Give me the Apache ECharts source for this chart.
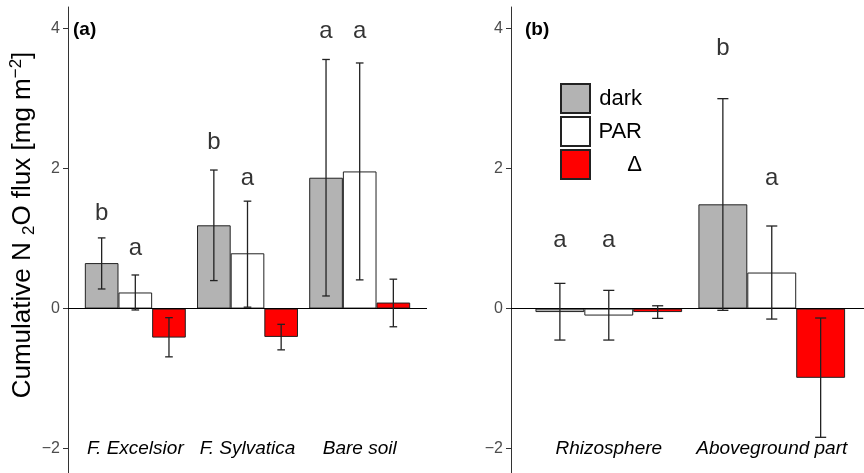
<!DOCTYPE html>
<html>
<head>
<meta charset="utf-8">
<script src="https://cdn.jsdelivr.net/npm/echarts@6/dist/echarts.min.js"></script>
<style>
html,body{margin:0;padding:0;background:#fff;}
#c{width:864px;height:473px;}
</style>
</head>
<body>
<div id="c"></div>
<script>
// ---------- data ----------
const seriesNames = ['dark', 'PAR', 'Δ'];
const yTicks = [-2, 0, 2, 4];

const catsA = ['F. Excelsior', 'F. Sylvatica', 'Bare soil'];
const darkA = [0.65, 1.19, 1.87];
const parA = [0.23, 0.79, 1.96];
const deltaA = [-0.415, -0.405, 0.086];
const darkLoA = [0.28, 0.40, 0.18];
const darkHiA = [1.01, 1.98, 3.56];
const parLoA = [-0.02, 0.02, 0.41];
const parHiA = [0.48, 1.535, 3.51];
const deltaLoA = [-0.69, -0.59, -0.26];
const deltaHiA = [-0.13, -0.225, 0.42];
const lettersDarkA = ['b', 'b', 'a'];
const lettersParA = ['a', 'a', 'a'];
const letterYDarkA = [1.36, 2.37, 3.96];
const letterYParA = [0.86, 1.86, 3.96];

const catsB = ['Rhizosphere', 'Aboveground part'];
const darkB = [-0.05, 1.49];
const parB = [-0.10, 0.515];
const deltaB = [-0.05, -0.99];
const darkLoB = [-0.45, -0.025];
const darkHiB = [0.36, 3.00];
const parLoB = [-0.45, -0.15];
const parHiB = [0.26, 1.18];
const deltaLoB = [-0.14, -1.84];
const deltaHiB = [0.04, -0.135];
const lettersDarkB = ['a', 'b'];
const lettersParB = ['a', 'a'];
const letterYDarkB = [0.98, 3.72];
const letterYParB = [0.98, 1.86];

// ---------- styling ----------
const FONT = '"Liberation Sans", Arial, Helvetica, sans-serif';
const fills = ['#B3B3B3', '#FFFFFF', '#FF0000'];
const EDGE = '#222';
const DODGE = [-0.3, 0, 0.3];
const CAP = 0.068;
const Y_MIN = -2.35, Y_MAX = 4.31;

const chart = echarts.init(document.getElementById('c'), null, {renderer: 'canvas'});

function xAxisFor(grid, cats, maxV) {
  return {
    type: 'value', gridIndex: grid, min: 0.4, max: maxV,
    axisLine: {show: false}, axisTick: {show: false}, splitLine: {show: false},
    offset: -24,
    axisLabel: {
      customValues: cats.map((c, i) => i + 1),
      formatter: v => cats[Math.round(v) - 1] || '',
      fontFamily: FONT, fontStyle: 'italic', fontSize: 19, color: '#000',
      margin: 0, verticalAlign: 'middle'
    }
  };
}
function yAxisFor(grid, withName) {
  const ax = {
    type: 'value', gridIndex: grid, min: Y_MIN, max: Y_MAX,
    axisLine: {show: true, lineStyle: {color: '#333', width: 1}},
    axisTick: {show: true, length: 5, lineStyle: {color: '#333', width: 1}, customValues: yTicks},
    splitLine: {show: false},
    axisLabel: {customValues: yTicks, fontFamily: FONT, fontSize: 16, color: '#4D4D4D', margin: 8,
      formatter: v => (v < 0 ? '\u2212' + Math.abs(v) : String(v))}
  };
  if (withName) {
    ax.name = 'Cumulative N {sub|2}O flux [mg m{sup|\u22122}]';
    ax.nameLocation = 'middle';
    ax.nameRotate = 90;
    ax.nameGap = 29;
    ax.nameTextStyle = {
      fontFamily: FONT, fontSize: 26, color: '#000', lineHeight: 30,
      padding: [0, 0, 0, 30],
      rich: {
        sub: {fontFamily: FONT, fontSize: 17, lineHeight: 10, verticalAlign: 'bottom'},
        sup: {fontFamily: FONT, fontSize: 17, lineHeight: 10, verticalAlign: 'top'}
      }
    };
  }
  return ax;
}

function barSeries(grid, name, idx, vals, withZero) {
  const s = {
    type: 'bar', name: name, xAxisIndex: grid, yAxisIndex: grid,
    data: vals.map((v, i) => [i + 1, v]),
    barGap: '0%', barCategoryGap: '10%',
    itemStyle: {color: fills[idx], borderColor: EDGE, borderWidth: 1},
    emphasis: {disabled: true}
  };
  if (withZero) {
    s.markLine = {
      silent: true, symbol: ['none', 'none'], label: {show: false},
      lineStyle: {color: '#000', width: 1, type: 'solid'},
      data: [{yAxis: 0}]
    };
  }
  return s;
}

function errSeries(grid, idx, lo, hi) {
  const off = DODGE[idx];
  return {
    type: 'custom', xAxisIndex: grid, yAxisIndex: grid, z: 5, silent: true,
    data: lo.map((l, i) => [i + 1, l, hi[i]]),
    encode: {x: 0, y: [1, 2]},
    renderItem: function (params, api) {
      const x = api.value(0) + off;
      const a = api.coord([x, api.value(1)]);
      const b = api.coord([x, api.value(2)]);
      const half = api.size([CAP, 0])[0] / 2;
      const st = {stroke: EDGE, lineWidth: 1.3};
      return {type: 'group', children: [
        {type: 'line', shape: {x1: a[0], y1: a[1], x2: b[0], y2: b[1]}, style: st},
        {type: 'line', shape: {x1: b[0] - half, y1: b[1], x2: b[0] + half, y2: b[1]}, style: st},
        {type: 'line', shape: {x1: a[0] - half, y1: a[1], x2: a[0] + half, y2: a[1]}, style: st}
      ]};
    }
  };
}

function letterSeries(grid, idx, letters, ys) {
  const off = DODGE[idx];
  return {
    type: 'scatter', xAxisIndex: grid, yAxisIndex: grid, z: 6, silent: true,
    symbol: 'circle', symbolSize: 1, itemStyle: {color: 'rgba(0,0,0,0)'},
    data: letters.map((t, i) => [i + 1 + off, ys[i], t]),
    label: {show: true, position: 'inside', formatter: p => p.value[2],
      fontFamily: FONT, fontSize: 24, color: '#000'}
  };
}

const option = {
  animation: false,
  backgroundColor: '#fff',
  title: [
    {text: '(a)', left: 73, top: 20, padding: 0,
      textStyle: {fontFamily: FONT, fontSize: 19, fontWeight: 'bold', color: '#000'}},
    {text: '(b)', left: 525, top: 20, padding: 0,
      textStyle: {fontFamily: FONT, fontSize: 19, fontWeight: 'bold', color: '#000'}}
  ],
  legend: {
    data: seriesNames, orient: 'vertical', left: 560, top: 83, padding: 0,
    icon: 'rect', itemWidth: 29, itemHeight: 29, itemGap: 2,
    selectedMode: false,
    formatter: '{t|{name}}',
    textStyle: {fontFamily: FONT, fontSize: 22, color: '#000',
      rich: {t: {fontFamily: FONT, fontSize: 22, width: 47, align: 'right'}}}
  },
  grid: [
    {left: 68, top: 7, width: 359, bottom: 0, outerBoundsMode: 'none', containLabel: false},
    {left: 511, top: 7, right: 0, bottom: 0, outerBoundsMode: 'none', containLabel: false}
  ],
  xAxis: [xAxisFor(0, catsA, 3.6), xAxisFor(1, catsB, 2.566)],
  yAxis: [yAxisFor(0, true), yAxisFor(1, false)],
  series: [
    barSeries(0, 'dark', 0, darkA, true),
    barSeries(0, 'PAR', 1, parA, false),
    barSeries(0, 'Δ', 2, deltaA, false),
    barSeries(1, 'dark', 0, darkB, true),
    barSeries(1, 'PAR', 1, parB, false),
    barSeries(1, 'Δ', 2, deltaB, false),
    errSeries(0, 0, darkLoA, darkHiA),
    errSeries(0, 1, parLoA, parHiA),
    errSeries(0, 2, deltaLoA, deltaHiA),
    errSeries(1, 0, darkLoB, darkHiB),
    errSeries(1, 1, parLoB, parHiB),
    errSeries(1, 2, deltaLoB, deltaHiB),
    letterSeries(0, 0, lettersDarkA, letterYDarkA),
    letterSeries(0, 1, lettersParA, letterYParA),
    letterSeries(1, 0, lettersDarkB, letterYDarkB),
    letterSeries(1, 1, lettersParB, letterYParB)
  ]
};
chart.setOption(option);
</script>
</body>
</html>
